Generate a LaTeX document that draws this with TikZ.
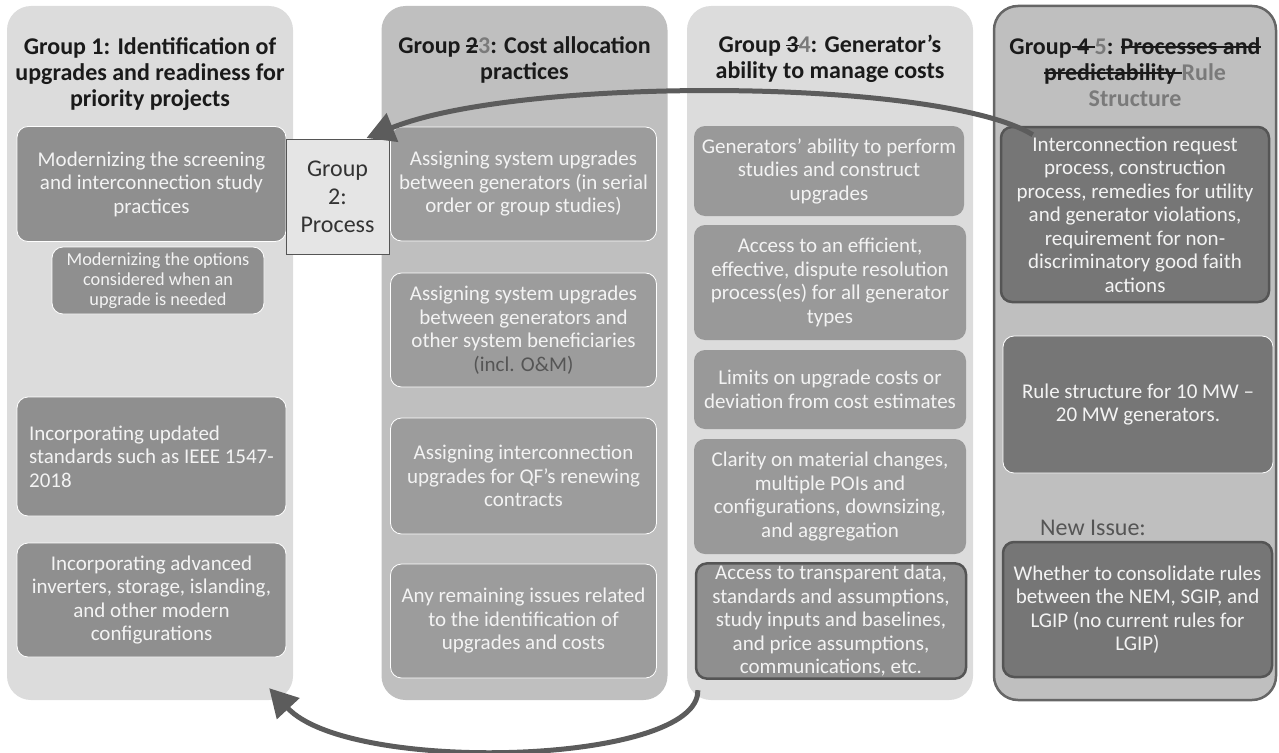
\documentclass[tikz,border=0pt]{standalone}
\usepackage{fontspec}
\setmainfont{Carlito}
\usetikzlibrary{arrows.meta}

\newcommand{\struck}[1]{\leavevmode\setbox0\hbox{#1}\rlap{\raisebox{0.27em}{\rule{\wd0}{1.4pt}}}\box0}

\definecolor{panellight}{HTML}{DCDCDC}
\definecolor{panelmid}{HTML}{BFBFBF}
\definecolor{paneledge}{HTML}{666666}
\definecolor{headtext}{HTML}{1A1A1A}
\definecolor{headgray}{HTML}{7A7A7A}
\definecolor{issueA}{HTML}{8F8F8F}
\definecolor{issueB}{HTML}{9C9C9C}
\definecolor{issueC}{HTML}{999999}
\definecolor{issueD}{HTML}{767676}
\definecolor{issuetext}{HTML}{F3F3F3}
\definecolor{issueedge}{HTML}{555555}
\definecolor{arrowgray}{HTML}{5C5C5C}

\begin{document}
\begin{tikzpicture}[x=1pt,y=-1pt,
  panel/.style={rounded corners=24pt,minimum width=286pt,minimum height=694pt,inner sep=0pt},
  panelhead/.style={font=\bfseries\fontsize{24}{26}\selectfont,text=headtext,align=center,inner sep=0pt,anchor=north},
  issue/.style={rounded corners=11pt,draw=white,line width=0.8pt,text=issuetext,align=center,inner sep=2pt,font=\fontsize{21}{23.5}\selectfont},
  framed/.style={draw=issueedge,line width=2.5pt},
  procbox/.style={draw=issueedge,line width=1pt,fill=black!10,text=black!80,align=center,font=\fontsize{24}{28}\selectfont},
  backarrow/.style={draw=arrowgray,line width=5pt,-{Triangle[length=28pt,width=30pt]}}
]
\useasboundingbox (0,0) rectangle (1279,752);

% the four groups
\node[panel,fill=panellight] (g1) at (150,353) {};
\node[panel,fill=panelmid] (g2) at (524.5,353) {};
\node[panel,fill=panellight] (g3) at (830,353) {};
\node[panel,fill=panelmid,draw=paneledge,line width=2.5pt,minimum width=282pt] (g4) at (1135,353) {};

\node[panelhead] (h1) at (150,37) {Group 1: Identification of\\upgrades and readiness for\\priority projects};
\node[panelhead] (h2) at (524.5,36) {Group \struck{2}{\color{headgray}3}: Cost allocation\\practices};
\node[panelhead] (h3) at (830,35) {Group \struck{3}{\color{headgray}4}: Generator’s\\ability to manage costs};
\node[panelhead] (h4) at (1135,37) {Group\struck{ 4 }{\color{headgray}5}: \struck{Processes and}\\\struck{predictability }{\color{headgray}Rule}\\{\color{headgray}Structure}};

% group 1
\node[issue,fill=issueA,minimum width=269pt,minimum height=115pt] (b1a) at (151.5,184) {Modernizing the screening\\and interconnection study\\practices};
\node[issue,fill=issueA,minimum width=212pt,minimum height=67pt,font=\fontsize{18.3}{20}\selectfont] (b1b) at (158,280.5) {Modernizing the options\\considered when an\\upgrade is needed};
\node[issue,fill=issueA,minimum width=269pt,minimum height=119pt,align=left] (b1c) at (151.5,456.5) {Incorporating updated\\standards such as IEEE 1547-\\2018};
\node[issue,fill=issueA,minimum width=269pt,minimum height=114pt] (b1d) at (151.5,600) {Incorporating advanced\\inverters, storage, islanding,\\and other modern\\configurations};

% group 2 (old 3)
\node[issue,fill=issueB,minimum width=266pt,minimum height=114pt] (b2a) at (523.5,184) {Assigning system upgrades\\between generators (in serial\\order or group studies)};
\node[issue,fill=issueB,minimum width=266pt,minimum height=114pt] (b2b) at (523.5,330) {Assigning system upgrades\\between generators and\\other system beneficiaries\\{\color{issueedge}(incl. O\&M)}};
\node[issue,fill=issueB,minimum width=266pt,minimum height=116pt] (b2c) at (523.5,476) {Assigning interconnection\\upgrades for QF’s renewing\\contracts};
\node[issue,fill=issueB,minimum width=266pt,minimum height=114pt] (b2d) at (523.5,621) {Any remaining issues related\\to the identification of\\upgrades and costs};

% group 3 (old 4)
\node[issue,fill=issueC,draw=none,minimum width=270pt,minimum height=90pt] (b3a) at (829,171) {Generators’ ability to perform\\studies and construct\\upgrades};
\node[issue,fill=issueC,draw=none,minimum width=272pt,minimum height=115pt] (b3b) at (830,282.5) {Access to an efficient,\\effective, dispute resolution\\process(es) for all generator\\types};
\node[issue,fill=issueC,draw=none,minimum width=272pt,minimum height=79pt] (b3c) at (830,389.5) {Limits on upgrade costs or\\deviation from cost estimates};
\node[issue,fill=issueC,draw=none,minimum width=272pt,minimum height=115pt] (b3d) at (830,496.5) {Clarity on material changes,\\multiple POIs and\\configurations, downsizing,\\and aggregation};
\node[issue,fill=issueA,framed,minimum width=270pt,minimum height=114pt] (b3e) at (831,621) {Access to transparent data,\\standards and assumptions,\\study inputs and baselines,\\and price assumptions,\\communications, etc.};

% group 4 (old 5)
\node[issue,fill=issueD,framed,minimum width=268pt,minimum height=175pt] (b4a) at (1135,214.5) {Interconnection request\\process, construction\\process, remedies for utility\\and generator violations,\\requirement for non-\\discriminatory good faith\\actions};
\node[issue,fill=issueD,minimum width=270pt,minimum height=137pt] (b4b) at (1138,404.5) {Rule structure for 10 MW –\\20 MW generators.};
\node[text=issueedge,font=\fontsize{24}{26}\selectfont,inner sep=0pt] (newissue) at (1093,528) {New Issue:};
\node[issue,fill=issueD,framed,minimum width=269pt,minimum height=135pt] (b4c) at (1137.5,609.5) {Whether to consolidate rules\\between the NEM, SGIP, and\\LGIP (no current rules for\\LGIP)};

% group 2 moved
\node[procbox,minimum width=103pt,minimum height=115pt,inner sep=2pt] (proc) at (337.5,197) {Group\\2:\\Process};

\draw[backarrow] ([shift={(33,9)}]b4a.north west) .. controls (940,78) and (520,76) .. ([shift={(-23,-1)}]proc.north east);
\draw[backarrow] ([shift={(11,-10)}]g3.south west) .. controls (700,765) and (350,775) .. ([shift={(-24,-12)}]g1.south east);
\end{tikzpicture}
\end{document}
